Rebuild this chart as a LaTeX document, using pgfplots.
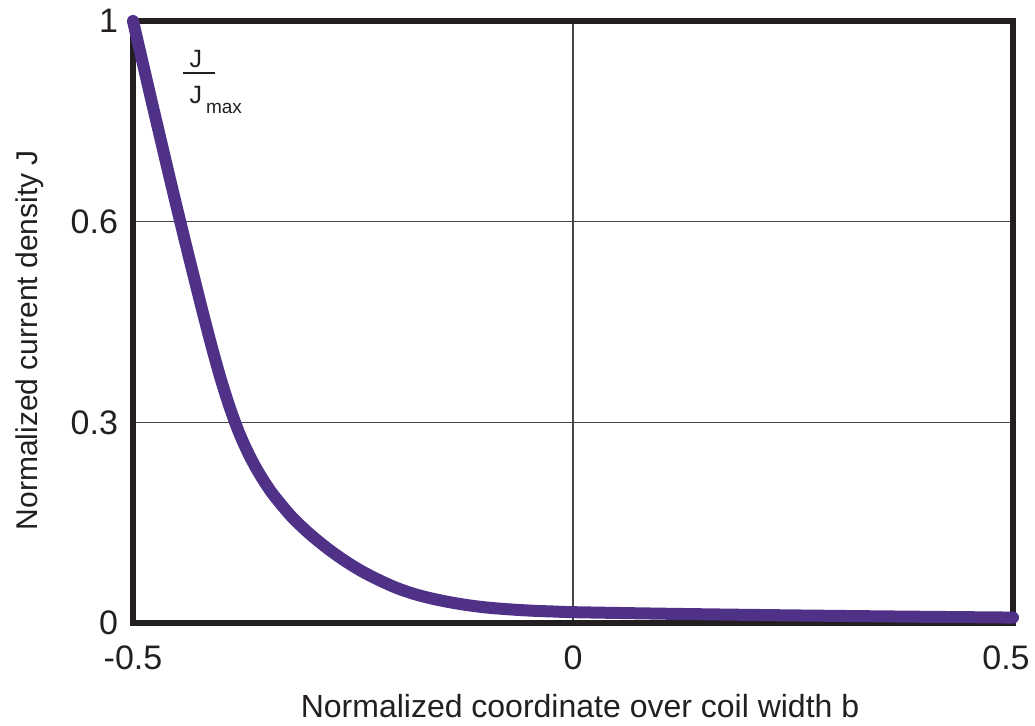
\documentclass[border=0pt]{standalone}
\usepackage{fontspec}
\setmainfont{Liberation Sans}
\usepackage{pgfplots}
\pgfplotsset{compat=1.18}
\definecolor{curve}{RGB}{79,50,136}
\definecolor{frame}{RGB}{35,31,32}
\definecolor{gridc}{RGB}{70,70,70}
\begin{document}
\begin{tikzpicture}
\begin{axis}[
  scale only axis,
  width=440pt, height=301pt,
  xmin=-0.5, xmax=0.5, ymin=0, ymax=1,
  clip=false,
  axis line style={line width=2.6pt, color=frame},
  xtick={-0.5,0,0.5}, xticklabels={-0.5,0,0.5\hspace*{7pt}},
  ytick={0,0.3333,0.6667,1}, yticklabels={0,0.3,0.6,1},
  major tick length=0pt,
  grid=major,
  major grid style={line width=0.6pt, color=gridc},
  tick label style={font=\fontsize{17}{19}\selectfont, text=frame},
  /pgf/number format/assume math mode=true,
  xticklabel style={yshift=-8pt},
  yticklabel style={xshift=-4pt},
  xlabel={Normalized coordinate over coil width b},
  ylabel={Normalized current density J},
  label style={text=frame},
  xlabel style={font=\fontsize{16}{18}\selectfont, at={(axis description cs:0.508,-0.138)}, anchor=center},
  ylabel style={font=\fontsize{15}{17}\selectfont, at={(axis description cs:-0.117,0.47)}, anchor=center},
]
\coordinate (sw) at (rel axis cs:0,0);
\addplot[color=curve, line width=6pt, line cap=round, line join=round, smooth] coordinates {
(-0.500,1.000) (-0.490,0.937) (-0.480,0.874) (-0.470,0.812) (-0.460,0.750)
(-0.450,0.689) (-0.440,0.629) (-0.430,0.570) (-0.420,0.512) (-0.410,0.456)
(-0.400,0.404) (-0.390,0.358) (-0.380,0.318) (-0.370,0.285) (-0.360,0.257)
(-0.350,0.233) (-0.340,0.212) (-0.320,0.177) (-0.300,0.149) (-0.280,0.125)
(-0.260,0.104) (-0.240,0.086) (-0.220,0.071) (-0.200,0.058) (-0.180,0.048)
(-0.160,0.0405) (-0.140,0.0345) (-0.120,0.0297) (-0.100,0.026) (-0.080,0.0235)
(-0.060,0.0215) (-0.040,0.020) (-0.020,0.019) (0.000,0.018) (0.100,0.0155)
(0.200,0.0135) (0.300,0.0118) (0.400,0.0103) (0.500,0.009)
};
\node[inner sep=0pt, text=frame] (fl) at (axis cs:-0.425,0.9136) {\rule{16pt}{0.8pt}};
\node[inner sep=0pt, anchor=base, text=frame, font=\fontsize{12.5}{14}\selectfont] at ([xshift=-1.5pt,yshift=3pt]fl.center) {J};
\node[inner sep=0pt, anchor=base, text=frame, font=\fontsize{12.5}{14}\selectfont] (dj) at ([xshift=-1.5pt,yshift=-15pt]fl.center) {J};
\node[inner sep=0pt, anchor=base west, text=frame, font=\fontsize{9.5}{11}\selectfont] at ([xshift=1.5pt,yshift=-5pt]dj.base east) {max};
\end{axis}
\pgfresetboundingbox
\path[use as bounding box] (sw) ++(-66.5pt,-51pt) rectangle ++(517.5pt,362.5pt);
\end{tikzpicture}
\end{document}
